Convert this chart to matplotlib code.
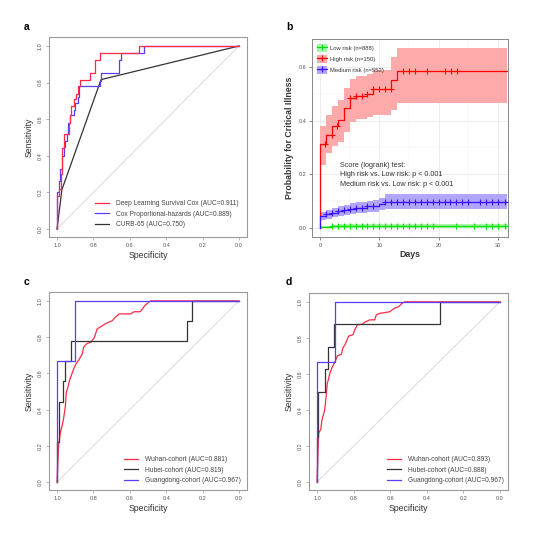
import matplotlib
matplotlib.use("Agg")
import matplotlib.pyplot as plt
from matplotlib.lines import Line2D
from matplotlib.patches import Patch

plt.rcParams['font.family'] = ['Liberation Sans', 'DejaVu Sans']

# --- DATA ---
# panel a: ROC vertices (specificity, sensitivity)
a_dl_spec = [1.0, 1.0, 0.989, 0.989, 0.98, 0.98, 0.975, 0.975, 0.97, 0.97, 0.963, 0.963, 0.936, 0.936,
             0.927, 0.927, 0.921, 0.921, 0.905, 0.905, 0.894, 0.894, 0.885, 0.885, 0.872, 0.872, 0.857, 0.857,
             0.82, 0.82, 0.79, 0.79, 0.762, 0.762, 0.551, 0.551, 0.0]
a_dl_sens = [0.0, 0.18, 0.18, 0.22, 0.22, 0.30, 0.30, 0.33, 0.33, 0.44, 0.44, 0.52, 0.52, 0.58,
             0.58, 0.62, 0.62, 0.67, 0.67, 0.71, 0.71, 0.74, 0.74, 0.78, 0.78, 0.816, 0.816,
             0.816, 0.816, 0.852, 0.852, 0.925, 0.925, 0.963, 0.963, 1.0, 1.0]
a_cox_spec = [1.0, 1.0, 0.991, 0.991, 0.985, 0.985, 0.972, 0.972, 0.963, 0.963, 0.954, 0.954, 0.945, 0.945,
              0.938, 0.938, 0.93, 0.93, 0.908, 0.908, 0.899, 0.899, 0.886, 0.886, 0.877, 0.877,
              0.762, 0.762, 0.758, 0.758, 0.66, 0.66, 0.648, 0.648, 0.522, 0.522, 0.0]
a_cox_sens = [0.0, 0.20, 0.20, 0.26, 0.26, 0.33, 0.33, 0.40, 0.40, 0.45, 0.45, 0.48, 0.48, 0.52,
              0.52, 0.58, 0.58, 0.62, 0.62, 0.65, 0.65, 0.69, 0.69, 0.72, 0.72, 0.78,
              0.78, 0.81, 0.81, 0.852, 0.852, 0.925, 0.925, 0.963, 0.963, 1.0, 1.0]
a_curb_spec = [1.0, 0.973, 0.771, 0.758, 0.0]
a_curb_sens = [0.0, 0.215, 0.78, 0.816, 1.0]
a_labels = ["Deep Learning Survival Cox (AUC=0.911)", "Cox Proportional-hazards (AUC=0.889)", "CURB-65 (AUC=0.750)"]

# panel b: Kaplan-Meier style cumulative incidence
b_days = [0, 1, 2, 3, 4, 5, 6, 8, 9, 10, 11, 12, 13, 31.5]
b_high = [0.314, 0.348, 0.381, 0.401, 0.447, 0.484, 0.491, 0.50, 0.516, 0.516, 0.516, 0.553, 0.584, 0.584]
b_high_lo = [0.236, 0.28, 0.304, 0.319, 0.357, 0.394, 0.404, 0.414, 0.422, 0.422, 0.422, 0.441, 0.466, 0.466]
b_high_hi = [0.381, 0.419, 0.453, 0.478, 0.522, 0.555, 0.565, 0.575, 0.59, 0.59, 0.59, 0.637, 0.671, 0.671]
b_med = [0.043, 0.05, 0.056, 0.062, 0.068, 0.072, 0.075, 0.08, 0.082, 0.089, 0.098, 0.098, 0.098, 0.098]
b_med_lo = [0.028, 0.034, 0.039, 0.044, 0.049, 0.052, 0.055, 0.058, 0.06, 0.065, 0.07, 0.07, 0.07, 0.07]
b_med_hi = [0.058, 0.066, 0.073, 0.08, 0.087, 0.092, 0.096, 0.101, 0.104, 0.113, 0.127, 0.127, 0.127, 0.127]
b_low = [0.0025, 0.0025, 0.006, 0.007, 0.007, 0.007, 0.007, 0.007, 0.007, 0.007, 0.007, 0.007, 0.007, 0.007]
b_low_lo = [0.0, 0.0, 0.001, 0.001, 0.001, 0.001, 0.001, 0.001, 0.001, 0.001, 0.001, 0.001, 0.001, 0.001]
b_low_hi = [0.007, 0.007, 0.012, 0.014, 0.014, 0.014, 0.014, 0.014, 0.014, 0.014, 0.014, 0.014, 0.014, 0.014]
b_high_cens = [0.84, 1.97, 2.92, 5, 6, 7, 8, 9, 9.9, 10.9, 11.9, 14, 15, 16, 18.1, 21.1, 22.1, 23.1]
b_med_cens = [1, 2, 3, 4, 5, 6, 7, 8, 9, 11, 12, 13, 14, 15, 16, 17, 18, 19, 20, 21, 22, 23, 24, 25,
              27, 28, 29, 30, 31.2]
b_low_cens = [2, 3, 4, 5, 6, 7, 8, 9, 10, 11, 12, 13, 14, 15, 16, 17, 18, 19, 23, 26, 28, 29, 30, 31.2]
b_labels = ["Low risk (n=888)", "High risk (n=150)", "Medium risk (n=552)"]
b_text = "Score (logrank) test:\nHigh risk vs. Low risk: p < 0.001\nMedium risk vs. Low risk: p < 0.001"

# panel c: external cohorts
c_wuhan_spec = [1.0, 0.996, 0.991, 0.982, 0.972, 0.963, 0.954, 0.949, 0.941, 0.93, 0.917, 0.903, 0.893,
                0.88, 0.862, 0.853, 0.836, 0.812, 0.794, 0.779, 0.757, 0.728, 0.696, 0.68, 0.658, 0.596,
                0.577, 0.544, 0.531, 0.518, 0.494, 0.485, 0.0]
c_wuhan_sens = [0.0, 0.094, 0.203, 0.272, 0.31, 0.355, 0.42, 0.493, 0.52, 0.565, 0.601, 0.638, 0.656,
                0.674, 0.705, 0.746, 0.764, 0.773, 0.80, 0.846, 0.859, 0.877, 0.891, 0.909, 0.928, 0.928,
                0.94, 0.94, 0.955, 0.973, 0.995, 1.0, 1.0]
c_hubei_spec = [1.0, 1.0, 0.99, 0.99, 0.967, 0.967, 0.954, 0.954, 0.923, 0.923, 0.287, 0.287, 0.256, 0.256, 0.0]
c_hubei_sens = [0.0, 0.222, 0.222, 0.444, 0.444, 0.556, 0.556, 0.667, 0.667, 0.778, 0.778, 0.889, 0.889, 1.0, 1.0]
c_gd_spec = [1.0, 1.0, 0.9, 0.9, 0.0]
c_gd_sens = [0.0, 0.667, 0.667, 1.0, 1.0]
c_labels = ["Wuhan-cohort (AUC=0.881)", "Hubei-cohort (AUC=0.819)", "Guangdong-cohort (AUC=0.967)"]

# panel d
d_wuhan_spec = [1.0, 0.995, 0.991, 0.98, 0.973, 0.958, 0.949, 0.944, 0.931, 0.918, 0.903, 0.889, 0.867,
                0.858, 0.845, 0.827, 0.803, 0.794, 0.779, 0.752, 0.739, 0.712, 0.685, 0.676, 0.657, 0.602,
                0.578, 0.553, 0.538, 0.521, 0.0]
d_wuhan_sens = [0.0, 0.164, 0.273, 0.291, 0.345, 0.40, 0.491, 0.545, 0.60, 0.636, 0.664, 0.70, 0.709,
                0.745, 0.767, 0.81, 0.818, 0.845, 0.873, 0.876, 0.887, 0.90, 0.90, 0.927, 0.936, 0.945,
                0.964, 0.973, 0.99, 1.0, 1.0]
d_hubei_spec = [1.0, 1.0, 0.995, 0.995, 0.958, 0.958, 0.94, 0.94, 0.909, 0.909, 0.33, 0.33, 0.0]
d_hubei_sens = [0.0, 0.25, 0.25, 0.5, 0.5, 0.625, 0.625, 0.75, 0.75, 0.875, 0.875, 1.0, 1.0]
d_gd_spec = [1.0, 1.0, 0.903, 0.903, 0.0]
d_gd_sens = [0.0, 0.667, 0.667, 1.0, 1.0]
d_labels = ["Wuhan-cohort (AUC=0.893)", "Hubei-cohort (AUC=0.888)", "Guangdong-cohort (AUC=0.967)"]

RED = '#ff2a45'
BLUE = '#5a3cff'
BLACK = '#333333'
FRAME = '#9a9a9a'


def roc_axes(ax):
    ax.plot([1, 0], [0, 1], color='#d4d4d4', lw=0.6, zorder=1)
    ax.set_xlim(1.044, -0.044)
    ax.set_ylim(-0.044, 1.049)
    ticks = [1.0, 0.8, 0.6, 0.4, 0.2, 0.0]
    ax.set_xticks(ticks)
    ax.set_xticklabels([f"{t:.1f}" for t in ticks])
    ax.set_yticks(ticks[::-1])
    ax.set_yticklabels([f"{t:.1f}" for t in ticks[::-1]], rotation=90, va='center')
    ax.tick_params(labelsize=4, colors='#555555', length=2.5, width=0.5, pad=2, color=FRAME)
    for s in ax.spines.values():
        s.set_color(FRAME)
        s.set_linewidth(0.8)
    ax.set_xlabel("Specificity", fontsize=6.3, color='#333333', labelpad=2)
    ax.set_ylabel("Sensitivity", fontsize=6.3, color='#333333', labelpad=3)


def roc_legend(ax, labels, colors, anchor):
    handles = [Line2D([], [], color=c, lw=0.9) for c in colors]
    ax.legend(handles, labels, loc='lower left', bbox_to_anchor=anchor, frameon=False,
              fontsize=4.8, handlelength=2.1, handletextpad=1.0, labelspacing=0.55,
              borderpad=0.2, labelcolor='#444444')


fig = plt.figure(figsize=(5.52, 5.34), dpi=100)
W, H = 552, 534


def add_axes(l, t, r, b):
    return fig.add_axes([l / W, 1 - b / H, (r - l) / W, (b - t) / H])


# ---- panel a ----
ax_a = add_axes(49, 37, 247, 237)
roc_axes(ax_a)
ax_a.plot(a_curb_spec, a_curb_sens, color=BLACK, lw=0.9, zorder=2)
ax_a.plot(a_cox_spec, a_cox_sens, color=BLUE, lw=0.9, zorder=3)
ax_a.plot(a_dl_spec, a_dl_sens, color=RED, lw=0.9, zorder=4)
roc_legend(ax_a, a_labels, [RED, BLUE, BLACK], (0.21, 0.02))

# ---- panel b ----
ax_b = add_axes(312, 39, 508, 237)
ax_b.set_xlim(-1.35, 31.7)
ax_b.set_ylim(-0.034, 0.704)
ax_b.set_xticks([0, 10, 20, 30])
ax_b.set_xticks([5, 15, 25], minor=True)
ax_b.set_yticks([0.0, 0.2, 0.4, 0.6])
ax_b.set_yticklabels(["0.0", "0.2", "0.4", "0.6"])
ax_b.set_yticks([0.1, 0.3, 0.5], minor=True)
ax_b.grid(which='major', color='#e4e4e4', lw=0.5)
ax_b.grid(which='minor', color='#f2f2f2', lw=0.35)
ax_b.set_axisbelow(True)
ax_b.tick_params(which='major', labelsize=4, colors='#555555', length=2, width=0.5, pad=2, color='#555555')
ax_b.tick_params(which='minor', length=0)
for s in ax_b.spines.values():
    s.set_color('#888888')
    s.set_linewidth(0.7)

series = [
    (b_low, b_low_lo, b_low_hi, b_low_cens, '#00e000', '#a8f5a8'),
    (b_high, b_high_lo, b_high_hi, b_high_cens, '#ff0000', '#ffaaaa'),
    (b_med, b_med_lo, b_med_hi, b_med_cens, '#3a10ff', '#b0a6ff'),
]
handles = []
for est, lo, hi, cens, col, fill in series:
    ax_b.fill_between(b_days, lo, hi, step='post', color=fill, lw=0, zorder=1)
    ax_b.plot([0] + b_days, [0] + est, color=col, lw=0.9, drawstyle='steps-post', zorder=3)
    cy = []
    for c in cens:
        k = max(i for i, d in enumerate(b_days) if d <= c)
        cy.append(est[k])
    ax_b.plot(cens, cy, ls='none', marker='+', ms=4, mew=0.8, color=col, zorder=4)
    handles.append((Patch(facecolor=fill, edgecolor='none'),
                    Line2D([], [], color=col, lw=0.9, marker='+', ms=4, mew=0.8)))
ax_b.legend(handles, b_labels, loc='upper left', bbox_to_anchor=(0.0, 1.0), frameon=False,
            fontsize=4.2, handlelength=1.6, handleheight=1.6, handletextpad=0.6, labelspacing=0.6,
            borderpad=0.4, labelcolor='#333333')
ax_b.text(3.4, 0.245, b_text, fontsize=5.2, color='#333333', va='top', ha='left', linespacing=1.45)
ax_b.set_xlabel("Days", fontsize=6.3, fontweight='bold', color='#333333', labelpad=2)
ax_b.set_ylabel("Probability for Critical Illness", fontsize=6.3, fontweight='bold', color='#333333', labelpad=3)

# ---- panel c ----
ax_c = add_axes(49, 292, 247, 490)
roc_axes(ax_c)
ax_c.plot(c_wuhan_spec, c_wuhan_sens, color=RED, lw=0.9, zorder=2)
ax_c.plot(c_hubei_spec, c_hubei_sens, color=BLACK, lw=0.9, zorder=3)
ax_c.plot(c_gd_spec, c_gd_sens, color=BLUE, lw=0.9, zorder=4)
roc_legend(ax_c, c_labels, [RED, BLACK, BLUE], (0.357, 0.005))

# ---- panel d ----
ax_d = add_axes(309, 293, 508, 490)
roc_axes(ax_d)
ax_d.plot(d_wuhan_spec, d_wuhan_sens, color=RED, lw=0.9, zorder=2)
ax_d.plot(d_hubei_spec, d_hubei_sens, color=BLACK, lw=0.9, zorder=3)
ax_d.plot(d_gd_spec, d_gd_sens, color=BLUE, lw=0.9, zorder=4)
roc_legend(ax_d, d_labels, [RED, BLACK, BLUE], (0.37, 0.005))

# panel letters
for x, y, s in [(27, 27, 'a'), (289, 27, 'b'), (27, 282, 'c'), (289, 282, 'd')]:
    fig.text(x / W, 1 - y / H, s, fontsize=7.5, fontweight='bold', ha='center', va='center')

fig.savefig("out.png", dpi=100)
